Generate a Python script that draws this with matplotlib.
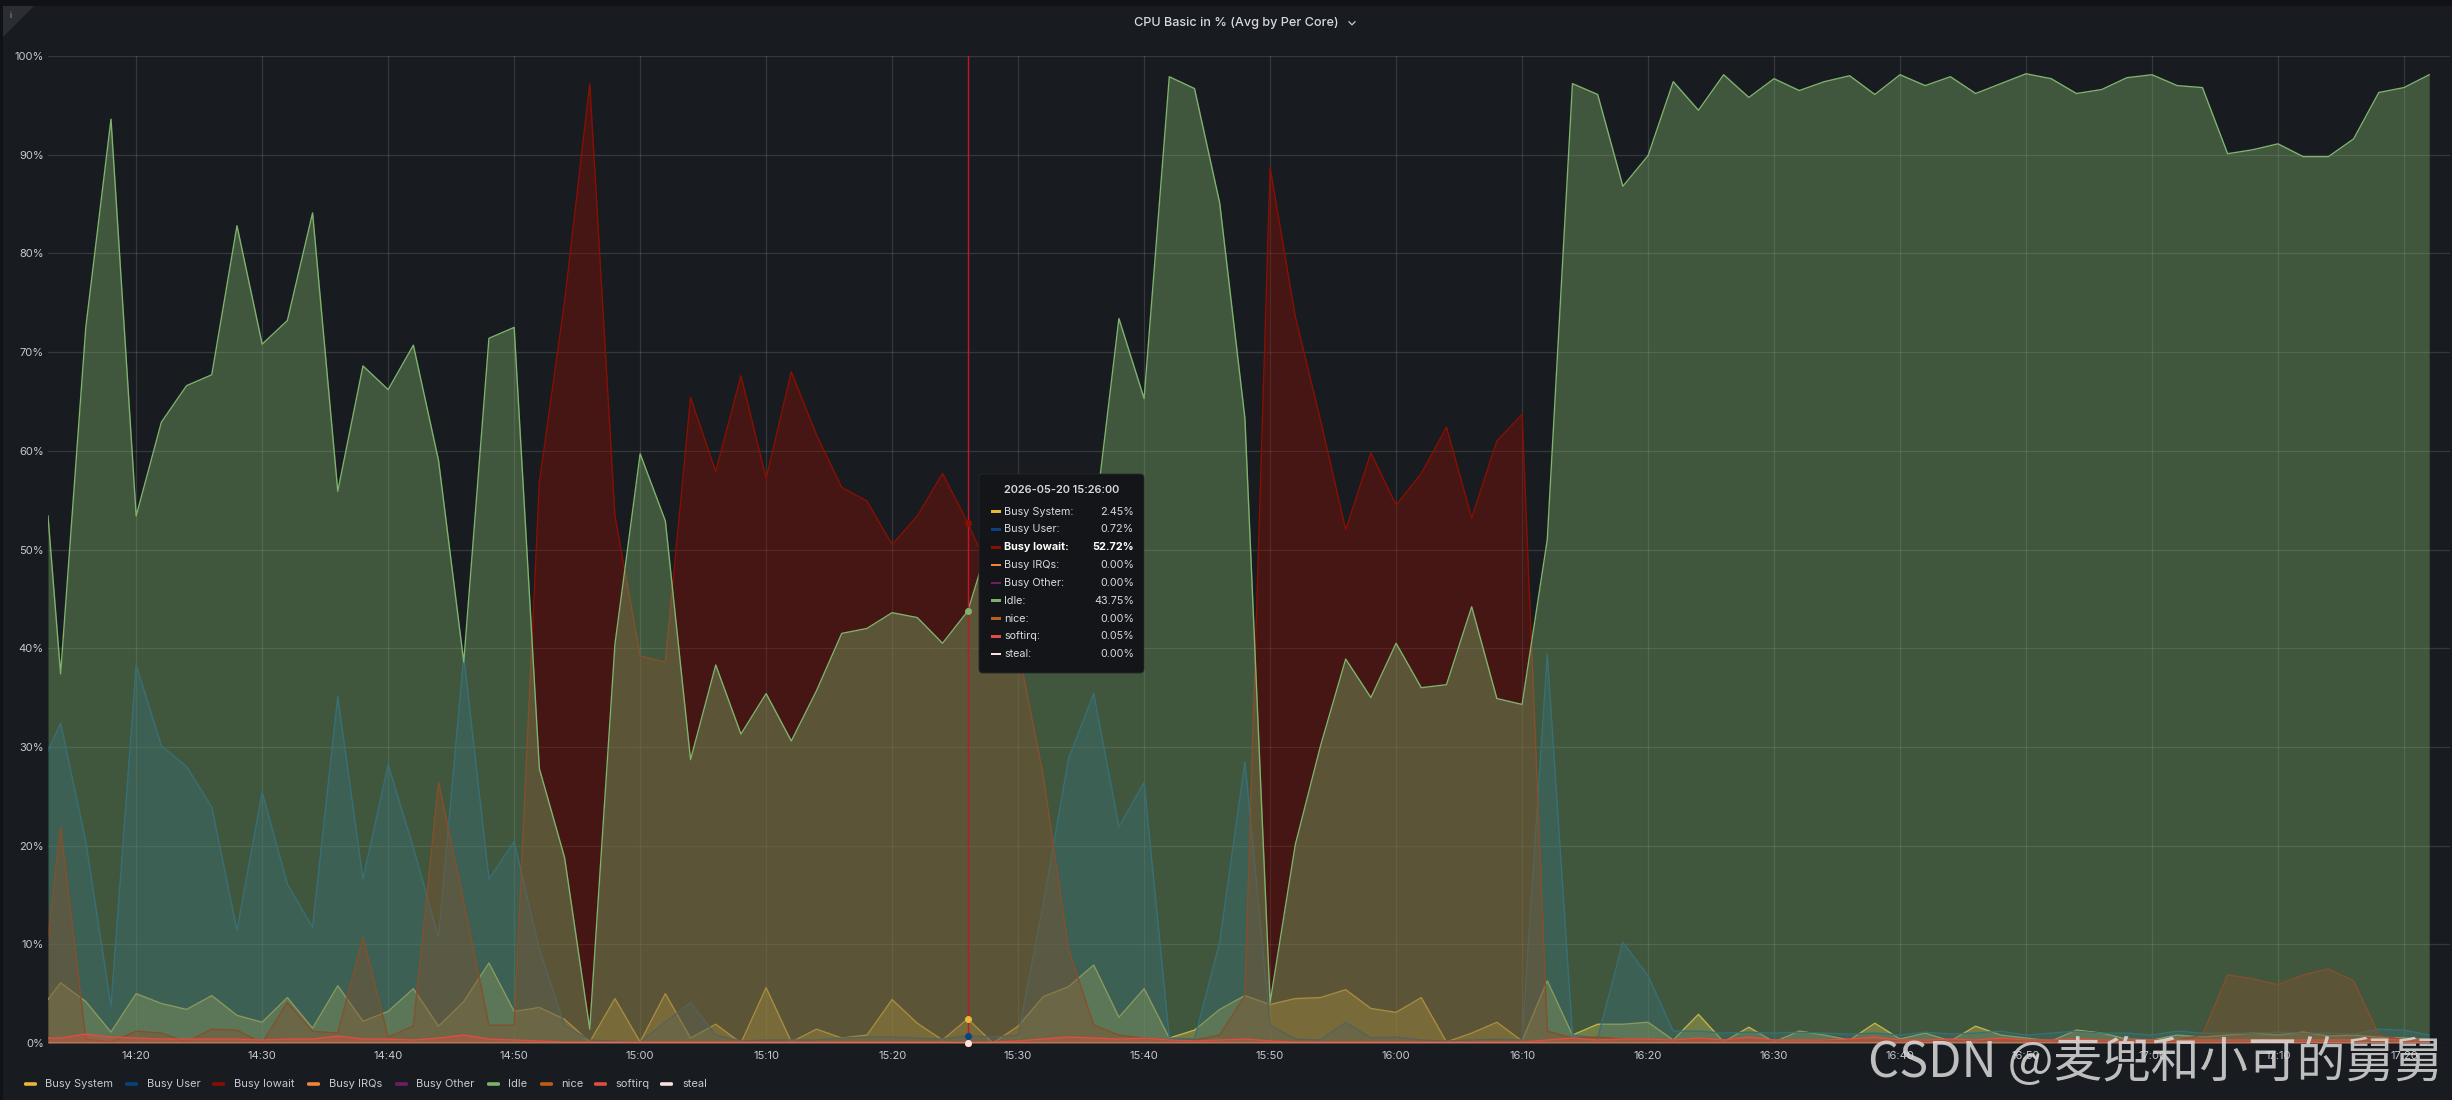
import numpy as np
import pandas as pd
import matplotlib
matplotlib.use("Agg")
import matplotlib.pyplot as plt
import matplotlib.dates as mdates
from matplotlib.patches import Rectangle, FancyBboxPatch, Polygon

# ---------------- data ----------------
times = pd.DatetimeIndex([pd.Timestamp("2026-05-20 14:13")]).append(
    pd.date_range("2026-05-20 14:14", "2026-05-20 17:22", freq="2min"))

idle = [53.4, 37.4, 72.5, 93.6, 53.4, 62.9, 66.6, 67.7, 82.8, 70.8,
        73.2, 84.1, 55.9, 68.6, 66.2, 70.7, 59.0, 38.6, 71.4, 72.5,
        27.8, 18.8, 1.4, 40.4, 59.7, 52.9, 28.7, 38.3, 31.3, 35.4,
        30.6, 35.7, 41.5, 42.0, 43.6, 43.1, 40.5, 43.75, 52.0, 55.0,
        52.0, 54.0, 52.0, 73.4, 65.3, 97.9, 96.7, 85.1, 63.3, 4.1,
        20.1, 30.1, 38.9, 35.0, 40.5, 36.0, 36.3, 44.2, 34.9, 34.3,
        51.0, 97.2, 96.1, 86.8, 89.9, 97.4, 94.5, 98.1, 95.8, 97.7,
        96.5, 97.4, 98.0, 96.1, 98.1, 97.0, 97.9, 96.2, 97.2, 98.2,
        97.7, 96.2, 96.6, 97.8, 98.1, 97.0, 96.8, 90.1, 90.5, 91.1,
        89.8, 89.8, 91.6, 96.3, 96.8, 98.1]
busy_iowait = [10.7, 21.9, 0.4, 0.1, 1.2, 1.0, 0.1, 1.4, 1.3, 0.0,
               4.1, 1.2, 1.0, 10.7, 0.6, 1.7, 26.4, 14.3, 1.8, 1.8,
               56.8, 75.1, 97.2, 53.4, 39.2, 38.6, 65.4, 57.9, 67.6, 57.2,
               68.0, 61.6, 56.3, 54.9, 50.5, 53.4, 57.7, 52.72, 47.0, 40.0,
               27.0, 9.5, 1.8, 0.8, 0.5, 0.3, 0.3, 0.8, 4.8, 88.7,
               73.6, 63.1, 52.0, 59.8, 54.5, 57.7, 62.4, 53.2, 61.0, 63.7,
               1.2, 0.5, 0.6, 0.4, 0.3, 0.3, 0.3, 0.3, 0.3, 0.3,
               0.3, 0.3, 0.3, 0.3, 0.3, 0.3, 0.3, 0.3, 0.3, 0.3,
               0.3, 0.3, 0.3, 0.3, 0.3, 0.3, 0.8, 6.9, 6.5, 5.9,
               6.9, 7.5, 6.3, 0.8, 0.3, 0.3]
busy_user = [29.6, 32.4, 20.4, 3.7, 38.3, 30.1, 28.0, 23.9, 11.4, 25.4,
             16.1, 11.7, 35.1, 16.6, 28.2, 19.8, 10.7, 39.2, 16.6, 20.4,
             9.5, 1.8, 0.3, 0.2, 0.1, 2.1, 4.1, 0.8, 0.2, 0.3,
             0.3, 0.3, 0.5, 0.6, 0.6, 0.5, 0.4, 0.72, 0.6, 0.8,
             14.1, 28.8, 35.4, 21.9, 26.4, 0.5, 0.4, 10.2, 28.5, 1.8,
             0.4, 0.3, 2.1, 0.5, 0.6, 0.3, 0.2, 0.3, 0.4, 0.3,
             39.4, 0.8, 0.5, 10.2, 6.8, 1.2, 1.2, 1.0, 1.1, 1.0,
             1.1, 1.0, 0.9, 1.0, 0.8, 1.1, 0.9, 1.0, 1.2, 0.8,
             1.0, 1.2, 1.0, 1.0, 0.8, 1.2, 1.0, 1.0, 1.0, 1.1,
             1.0, 1.0, 0.9, 1.4, 1.3, 0.8]
busy_system = [4.4, 6.1, 4.2, 1.1, 5.0, 4.0, 3.4, 4.8, 2.8, 2.1,
               4.6, 1.5, 5.8, 2.2, 3.2, 5.5, 1.7, 4.2, 8.1, 3.2,
               3.6, 2.4, 0.1, 4.5, 0.1, 5.0, 0.5, 1.9, 0.0, 5.6,
               0.1, 1.4, 0.5, 0.8, 4.4, 2.0, 0.3, 2.45, 0.0, 1.7,
               4.7, 5.7, 7.9, 2.6, 5.5, 0.5, 1.3, 3.4, 4.8, 3.9,
               4.5, 4.6, 5.4, 3.5, 3.1, 4.6, 0.1, 1.0, 2.1, 0.2,
               6.3, 0.8, 1.9, 1.9, 2.1, 0.3, 2.9, 0.1, 1.6, 0.1,
               1.2, 0.8, 0.3, 2.0, 0.4, 1.0, 0.2, 1.7, 0.8, 0.5,
               0.2, 1.3, 1.0, 0.4, 0.3, 0.8, 0.6, 0.8, 1.0, 0.8,
               1.1, 0.7, 0.8, 0.6, 0.5, 0.3]
softirq = [0.5, 0.5, 0.9, 0.6, 0.5, 0.4, 0.4, 0.4, 0.4, 0.3,
           0.4, 0.4, 0.7, 0.4, 0.4, 0.3, 0.5, 0.8, 0.4, 0.3,
           0.2, 0.1, 0.1, 0.1, 0.1, 0.1, 0.1, 0.1, 0.1, 0.1,
           0.1, 0.1, 0.1, 0.1, 0.1, 0.1, 0.1, 0.05, 0.1, 0.2,
           0.4, 0.6, 0.5, 0.4, 0.5, 0.3, 0.2, 0.3, 0.4, 0.2,
           0.1, 0.1, 0.1, 0.1, 0.1, 0.1, 0.1, 0.1, 0.1, 0.1,
           0.3, 0.5, 0.3, 0.4, 0.4, 0.3, 0.5, 0.3, 0.6, 0.3,
           0.3, 0.3, 0.4, 0.6, 0.3, 0.3, 0.4, 0.3, 0.5, 0.3,
           0.3, 0.4, 0.3, 0.3, 0.3, 0.3, 0.3, 0.3, 0.3, 0.3,
           0.3, 0.3, 0.3, 0.4, 0.3, 0.3]
n_points = len(times)
busy_irqs = [0.0] * n_points
busy_other = [0.0] * n_points
nice = [0.0] * n_points
steal = [0.0] * n_points

series_names = ["Busy System", "Busy User", "Busy Iowait", "Busy IRQs", "Busy Other",
                "Idle", "nice", "softirq", "steal"]
series_values = [busy_system, busy_user, busy_iowait, busy_irqs, busy_other,
                 idle, nice, softirq, steal]
series_colors = ["#EAB839", "#0A437C", "#890F02", "#EF843C", "#6D1F62",
                 "#7EB26D", "#C15C17", "#E24D42", "#FCE2DE"]
y_ticks = list(range(0, 101, 10))
hover_time = pd.Timestamp("2026-05-20 15:26")
title_text = "CPU Basic in % (Avg by Per Core)"
watermark_text = "CSDN @麦兜和小可的舅舅"

# ---------------- figure ----------------
W, H, DPI = 2452, 1100, 100
plt.rcParams['font.family'] = ['Inter', 'DejaVu Sans']
TXT = '#c8c9d3'

fig = plt.figure(figsize=(W / DPI, H / DPI), dpi=DPI, facecolor='#111217')

bg = fig.add_axes([0, 0, 1, 1], zorder=0)
bg.set_xlim(0, W); bg.set_ylim(H, 0); bg.axis('off')
bg.add_patch(Rectangle((3, 6), W, H, fc='#181b1f', ec='none'))
bg.add_patch(Polygon([(3, 6), (34, 6), (3, 37)], closed=True, fc='#2a2d33', ec='none'))
bg.text(11, 16, "i", fontsize=6, color='#a0a2aa', ha='center', va='center')
bg.text(1236, 23, title_text, fontsize=9.1, color='#d8d9df', ha='center', va='center',
        fontweight='medium')
bg.plot([1349, 1352, 1355], [21.8, 24.8, 21.8], color=TXT, lw=0.9)

# legend
leg_marker_x = [24, 125, 212, 307, 395, 487, 540, 594, 660]
leg_text_x = [45, 147, 234, 329, 416, 508, 561, 615, 682]
for name, col, mx, tx in zip(series_names, series_colors, leg_marker_x, leg_text_x):
    bg.add_patch(FancyBboxPatch((mx, 1082.2), 13, 3.6, boxstyle='round,pad=0,rounding_size=1.5',
                                fc=col, ec='none'))
    bg.text(tx, 1084, name, fontsize=8, color=TXT, ha='left', va='center')

# main plot
ax = fig.add_axes([48 / W, 1 - 1043 / H, 2402 / W, 987 / H], zorder=1)
ax.set_facecolor('none')
for s in ax.spines.values():
    s.set_visible(False)

# each series: fill then line, later series drawn over earlier ones
for i, (vals, col) in enumerate(zip(series_values, series_colors)):
    ax.fill_between(times, 0, vals, color=col, alpha=0.4, lw=0, zorder=2 + i)
    ax.plot(times, vals, color=col, lw=1.0, zorder=2 + i + 0.5)

ax.set_xlim(pd.Timestamp("2026-05-20 14:13:00"), pd.Timestamp("2026-05-20 17:23:39"))
ax.set_ylim(0, 100)
ax.set_yticks(y_ticks)
ax.set_yticklabels([f"{v}%" for v in y_ticks])
ax.xaxis.set_major_locator(mdates.MinuteLocator(byminute=[0, 10, 20, 30, 40, 50]))
ax.xaxis.set_major_formatter(mdates.DateFormatter('%H:%M'))
ax.tick_params(axis='both', length=0, colors=TXT, labelsize=8)
ax.tick_params(axis='y', pad=3)
ax.tick_params(axis='x', pad=6)
ax.set_axisbelow(True)
ax.grid(True, color='#ffffff', alpha=0.13, lw=0.9, zorder=0)

# hover cursor
hi = list(times).index(hover_time)
ax.axvline(hover_time, color='#c4162a', lw=1.0, zorder=20)
for vals, col in zip(series_values, series_colors):
    ax.plot([hover_time], [vals[hi]], marker='o', ms=4, color=col, mec=col,
            zorder=21, clip_on=False)

# overlay: tooltip + watermark
ov = fig.add_axes([0, 0, 1, 1], zorder=3)
ov.set_xlim(0, W); ov.set_ylim(H, 0); ov.axis('off')
ov.add_patch(FancyBboxPatch((979, 474), 165, 199, boxstyle='round,pad=0,rounding_size=4',
                            fc='#141518', ec='#26282d', lw=0.6))
ov.text(1062, 490, hover_time.strftime('%Y-%m-%d %H:%M:%S'), fontsize=7.9,
        color='#d8d9e0', ha='center', va='center', fontweight='semibold')
for i, (name, vals, col) in enumerate(zip(series_names, series_values, series_colors)):
    y = 511.7 + i * 17.8
    bold = name == "Busy Iowait"
    ov.add_patch(Rectangle((991, y - 1.3), 9.5, 2.6, fc=col, ec='none'))
    ov.text(1004, y, name + ":", fontsize=7.8, color='#ffffff' if bold else '#d8d9e0',
            ha='left', va='center', fontweight='bold' if bold else 'normal')
    ov.text(1134, y, f"{vals[hi]:.2f}%", fontsize=7.8, color='#ffffff' if bold else '#d8d9e0',
            ha='right', va='center', fontweight='bold' if bold else 'normal')

ov.text(2443, 1077, watermark_text, fontsize=35, color='#dcdcdc', alpha=0.85,
        ha='right', va='baseline', family=['Noto Sans CJK SC', 'DejaVu Sans'])

fig.savefig("out.png", dpi=DPI, facecolor=fig.get_facecolor())
